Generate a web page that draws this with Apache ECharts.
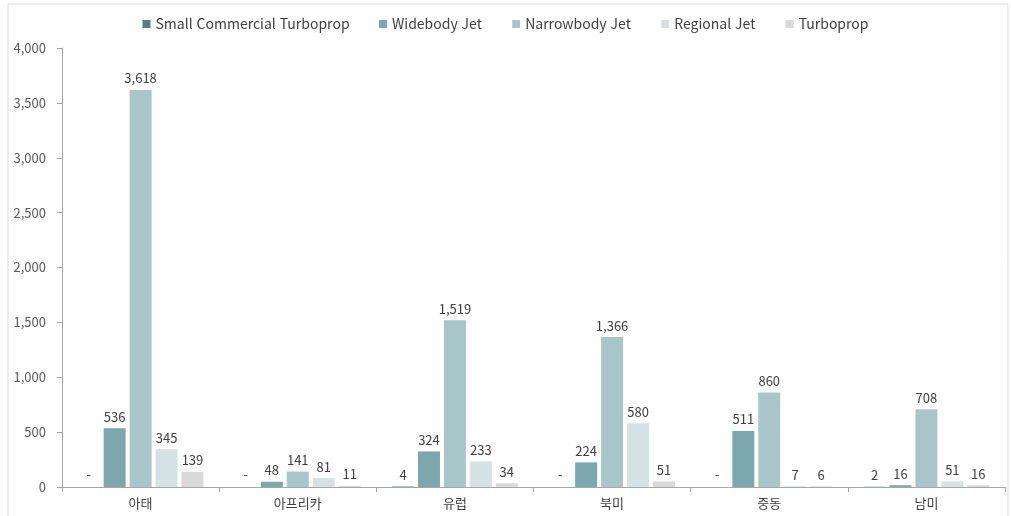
<!DOCTYPE html>
<html lang="ko">
<head>
    <meta charset="UTF-8">
    <title>region_fleet</title>
    <script src="https://cdn.jsdelivr.net/npm/echarts@6/dist/echarts.min.js"></script>
</head>
<body style="margin:0;background:#fff;">
<div id="chart" style="width:1011px;height:516px;"></div>
<script type="text/javascript">
    let regions = ['아태', '아프리카', '유럽', '북미', '중동', '남미'];
    let seriesNames = ['Small Commercial Turboprop', 'Widebody Jet', 'Narrowbody Jet', 'Regional Jet', 'Turboprop'];
    let smallTurboprop = [0, 0, 4, 0, 0, 2];
    let widebody = [536, 48, 324, 224, 511, 16];
    let narrowbody = [3618, 141, 1519, 1366, 860, 708];
    let regional = [345, 81, 233, 580, 7, 51];
    let turboprop = [139, 11, 34, 51, 6, 16];
    let colors = ['#4e7f87', '#7ca7ad', '#a8c5c9', '#d4e2e4', '#d9d9d9'];

    let font = '"Noto Sans CJK KR", "Noto Sans", sans-serif';
    let myChart = echarts.init(document.getElementById('chart'));

    function makeSeries(name, data, idx) {
        return {
            name: name,
            type: 'bar',
            data: data,
            barGap: '18%',
            barCategoryGap: '20%',
            itemStyle: {color: colors[idx]},
            label: {
                show: true,
                position: 'top',
                distance: 5,
                color: '#404040',
                fontSize: 13,
                fontFamily: font,
                // 0은 '-'로 표시
                formatter: function (p) {
                    return p.value === 0 ? '-' : p.value.toLocaleString('en-US');
                }
            }
        };
    }

    let option = {
        animation: false,
        textStyle: {fontFamily: font},
        graphic: [{
            type: 'rect',
            shape: {x: 8, y: 4, width: 1000, height: 520},
            style: {fill: 'none', stroke: '#d9d9d9', lineWidth: 1}
        }],
        legend: {
            top: 12,
            left: 'center',
            itemWidth: 8,
            itemHeight: 8,
            itemGap: 31,
            icon: 'rect',
            textStyle: {fontSize: 14, color: '#404040', fontFamily: font},
            data: seriesNames
        },
        grid: {left: 62, right: 6, top: 48, bottom: 29, containLabel: false},
        xAxis: {
            type: 'category',
            data: regions,
            axisLine: {lineStyle: {color: '#a6a6a6'}},
            axisTick: {show: true, alignWithLabel: false, length: 5, lineStyle: {color: '#a6a6a6'}},
            axisLabel: {color: '#404040', fontSize: 13, margin: 10}
        },
        yAxis: {
            type: 'value',
            min: 0,
            max: 4000,
            interval: 500,
            splitLine: {show: false},
            axisLine: {show: true, lineStyle: {color: '#a6a6a6'}},
            axisTick: {show: true, length: 5, lineStyle: {color: '#a6a6a6'}},
            axisLabel: {
                color: '#595959',
                fontSize: 13,
                margin: 16,
                formatter: function (v) {
                    return v.toLocaleString('en-US');
                }
            }
        },
        series: [
            makeSeries(seriesNames[0], smallTurboprop, 0),
            makeSeries(seriesNames[1], widebody, 1),
            makeSeries(seriesNames[2], narrowbody, 2),
            makeSeries(seriesNames[3], regional, 3),
            makeSeries(seriesNames[4], turboprop, 4)
        ]
    };
    myChart.setOption(option);
</script>
</body>
</html>
